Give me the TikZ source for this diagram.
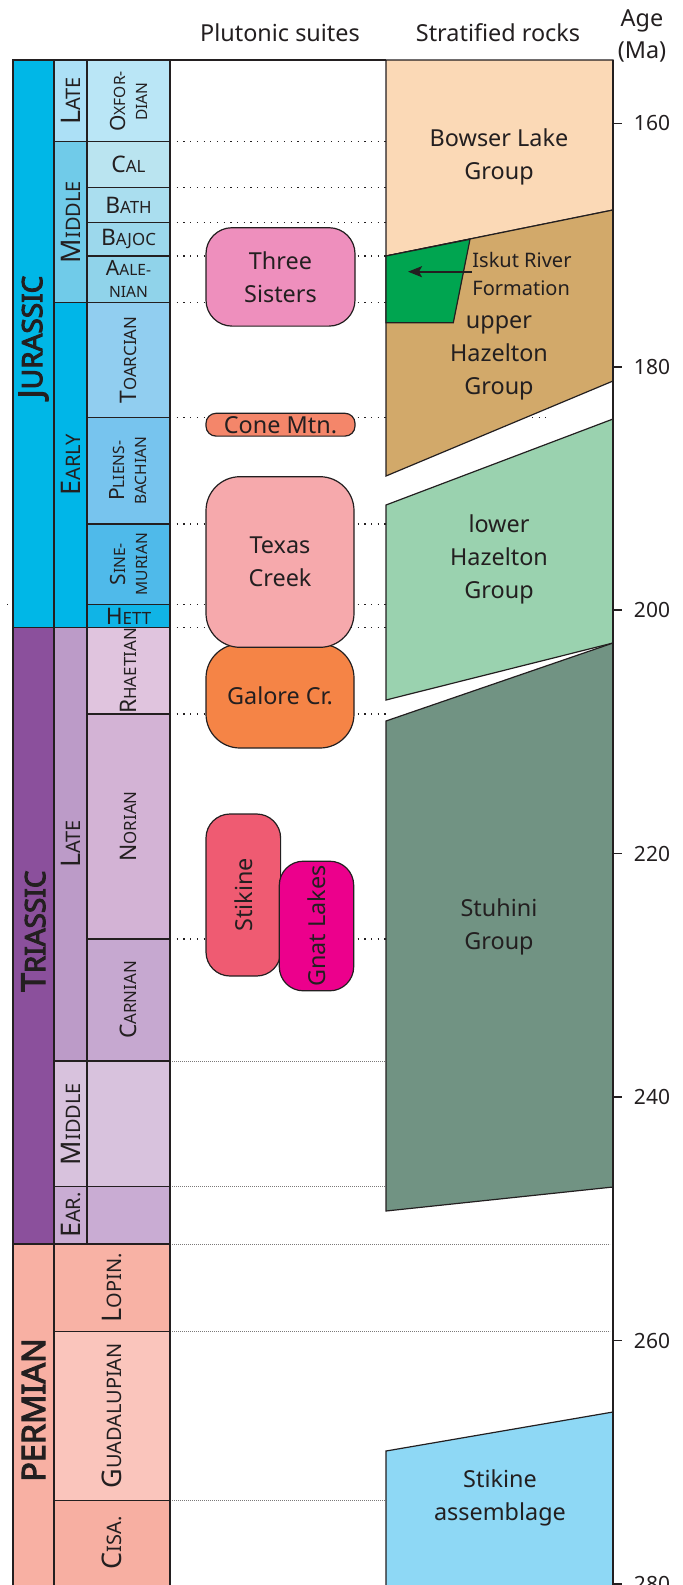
\documentclass[tikz,border=0pt]{standalone}
\usepackage{fontspec}
\setmainfont{Noto Sans}
\newfontfamily\perfont{Noto Sans}[FakeBold=3.5]
\usetikzlibrary{arrows.meta}
\definecolor{ink}{RGB}{35,31,32}
\definecolor{jurP}{RGB}{0,183,231}
\definecolor{jurL}{RGB}{172,224,246}
\definecolor{oxf}{RGB}{186,230,246}
\definecolor{jurM}{RGB}{112,203,233}
\definecolor{cal}{RGB}{186,228,240}
\definecolor{bath}{RGB}{170,222,239}
\definecolor{bajoc}{RGB}{156,216,236}
\definecolor{aalen}{RGB}{144,211,234}
\definecolor{jurE}{RGB}{0,182,232}
\definecolor{toarc}{RGB}{145,206,240}
\definecolor{pliens}{RGB}{119,196,238}
\definecolor{sine}{RGB}{79,186,234}
\definecolor{hett}{RGB}{16,180,230}
\definecolor{triP}{RGB}{139,80,156}
\definecolor{triL}{RGB}{188,155,200}
\definecolor{rhaet}{RGB}{224,196,222}
\definecolor{norian}{RGB}{211,179,213}
\definecolor{carnian}{RGB}{198,168,208}
\definecolor{triM}{RGB}{216,194,221}
\definecolor{triE}{RGB}{201,172,211}
\definecolor{perP}{RGB}{248,176,163}
\definecolor{lopin}{RGB}{248,178,165}
\definecolor{guad}{RGB}{250,197,188}
\definecolor{cisa}{RGB}{247,175,162}
\definecolor{threeS}{RGB}{238,143,189}
\definecolor{coneM}{RGB}{244,134,106}
\definecolor{texasC}{RGB}{246,169,172}
\definecolor{galoreC}{RGB}{245,132,70}
\definecolor{stikP}{RGB}{239,91,114}
\definecolor{gnatL}{RGB}{236,0,140}
\definecolor{bowser}{RGB}{251,217,182}
\definecolor{upperH}{RGB}{210,169,106}
\definecolor{iskut}{RGB}{0,165,80}
\definecolor{lowerH}{RGB}{154,210,175}
\definecolor{stuhini}{RGB}{113,147,131}
\definecolor{stikA}{RGB}{142,216,245}
\newcommand\SCa[2]{#1\scalebox{0.74}{#2}}
\newcommand\SCs[1]{\scalebox{0.74}{#1}}
\begin{document}
\begin{tikzpicture}[x=0.5pt,y=-0.5pt,
  cell/.style={draw=ink, line width=0.7pt},
  strat/.style={draw=ink, line width=0.6pt},
  pluton/.style={draw=ink, line width=0.6pt, text=ink, align=center, inner sep=0pt,
    font=\fontsize{11.7}{16.5}\selectfont},
  stxt/.style={text=ink, align=center, inner sep=0pt, font=\fontsize{11.7}{16.5}\selectfont},
  stlab/.style={text=ink, inner sep=0pt, font=\fontsize{11.4}{12}\selectfont},
  stlabtwo/.style={text=ink, inner sep=0pt, align=center, font=\fontsize{10.5}{11}\selectfont},
  eplab/.style={text=ink, inner sep=0pt, rotate=90, font=\fontsize{13.5}{15}\selectfont},
  perlab/.style={text=ink, inner sep=0pt, rotate=90, font=\perfont\fontsize{16.5}{18}\selectfont},
  dotc/.style={draw=ink, line width=0.6pt, dash pattern=on 0.6pt off 2.75pt},
  dotf/.style={draw=ink!60, line width=0.5pt, dash pattern=on 0.4pt off 0.6pt},
  axlab/.style={text=ink, inner sep=0pt, font=\fontsize{10.5}{12}\selectfont},
  hdr/.style={text=ink, inner sep=0pt, align=center, font=\fontsize{11.7}{16}\selectfont}]
\useasboundingbox (0,0) rectangle (682,1585);

% dotted correlation lines (behind everything)
\foreach \y in {141.7,187.7,222.7,256,302.3,524,604.3,627.7,714,939}
  \draw[dotc] (170,\y) -- (386,\y);
\draw[dotc] (170,417.7) -- (550,417.7);
\draw[dotc] (7,604.3) -- (13,604.3);
\foreach \y in {1061,1186.7,1244,1331.3,1500.3}
  \draw[dotf] (170,\y) -- (610,\y);

% stratified rocks
\filldraw[strat, fill=bowser] (386,60) -- (613,60) -- (613,210) -- (386,256) -- cycle;
\filldraw[strat, fill=upperH] (386,256) -- (613,210) -- (613,381) -- (386,476) -- cycle;
\filldraw[strat, fill=iskut] (386,256) -- (470,239.3) -- (453.3,322.7) -- (386,322.7) -- cycle;
\filldraw[strat, fill=lowerH] (386,505) -- (613,419) -- (613,643) -- (386,700) -- cycle;
\filldraw[strat, fill=stuhini] (386,721) -- (613,643) -- (613,1187) -- (386,1211) -- cycle;
\filldraw[strat, fill=stikA] (386,1451) -- (613,1412) -- (613,1595) -- (386,1595) -- cycle;

\node[stxt] (bowserT) at (499,157) {Bowser Lake\\Group};
\node[stxt] (upperT) at (499,358) {upper\\Hazelton\\Group};
\node[stxt] (lowerT) at (499,559) {lower\\Hazelton\\Group};
\node[stxt] (stuhiniT) at (499,927) {Stuhini\\Group};
\node[stxt] (stikAT) at (500,1498) {Stikine\\assemblage};
\node[text=ink, inner sep=0pt, align=left, anchor=west,
  font=\fontsize{10}{14}\selectfont] (iskutT) at (472,273.5) {Iskut River\\Formation};
\coordinate (iskA) at (472,271.7);
\coordinate (iskB) at (408,271.7);
\draw[ink, line width=0.9pt, -{Stealth[length=7pt,width=5.5pt,inset=1.5pt]}] (iskA) -- (iskB);

% plutonic suites
\node[pluton, fill=threeS, minimum width=74.5pt, minimum height=49.2pt, rounded corners=13pt]
  (three) at (280.5,276.9) {Three\\Sisters};
\node[pluton, fill=coneM, minimum width=74.5pt, minimum height=11.4pt, rounded corners=5pt]
  (cone) at (280.5,424.7) {Cone Mtn.};
\node[pluton, fill=galoreC, minimum width=74pt, minimum height=52pt, rounded corners=17pt]
  (galore) at (280,696) {Galore Cr.};
\node[pluton, fill=texasC, minimum width=74pt, minimum height=85.3pt, rounded corners=17pt]
  (texas) at (280,562) {Texas\\Creek};
\node[pluton, fill=stikP, rotate=90, minimum width=81pt, minimum height=37.3pt, rounded corners=12pt]
  (stikine) at (243.3,895) {Stikine};
\node[pluton, fill=gnatL, rotate=90, minimum width=64.8pt, minimum height=37.2pt, rounded corners=12pt]
  (gnat) at (316.5,926) {Gnat Lakes};

% time scale column: periods
\filldraw[cell, fill=jurP] (13,60) rectangle (54,627.7);
\filldraw[cell, fill=triP] (13,627.7) rectangle (54,1244);
\filldraw[cell, fill=perP] (13,1244) rectangle (54,1595);
% epochs
\filldraw[cell, fill=jurL] (54,60) rectangle (87,141.7);
\filldraw[cell, fill=jurM] (54,141.7) rectangle (87,302.3);
\filldraw[cell, fill=jurE] (54,302.3) rectangle (87,627.7);
\filldraw[cell, fill=triL] (54,627.7) rectangle (87,1061);
\filldraw[cell, fill=triM] (54,1061) rectangle (87,1186.7);
\filldraw[cell, fill=triE] (54,1186.7) rectangle (87,1244);
\filldraw[cell, fill=lopin] (54,1244) rectangle (170,1331.3);
\filldraw[cell, fill=guad] (54,1331.3) rectangle (170,1500.3);
\filldraw[cell, fill=cisa] (54,1500.3) rectangle (170,1595);
% stages
\filldraw[cell, fill=oxf] (87,60) rectangle (170,141.7);
\filldraw[cell, fill=cal] (87,141.7) rectangle (170,187.7);
\filldraw[cell, fill=bath] (87,187.7) rectangle (170,222.7);
\filldraw[cell, fill=bajoc] (87,222.7) rectangle (170,256);
\filldraw[cell, fill=aalen] (87,256) rectangle (170,302.3);
\filldraw[cell, fill=toarc] (87,302.3) rectangle (170,417.7);
\filldraw[cell, fill=pliens] (87,417.7) rectangle (170,524);
\filldraw[cell, fill=sine] (87,524) rectangle (170,604.3);
\filldraw[cell, fill=hett] (87,604.3) rectangle (170,627.7);
\filldraw[cell, fill=rhaet] (87,627.7) rectangle (170,714);
\filldraw[cell, fill=norian] (87,714) rectangle (170,939);
\filldraw[cell, fill=carnian] (87,939) rectangle (170,1061);
\filldraw[cell, fill=triM] (87,1061) rectangle (170,1186.7);
\filldraw[cell, fill=triE] (87,1186.7) rectangle (170,1244);

% frame
\draw[ink, line width=0.9pt] (13,1595) -- (13,60) -- (386,60);
\draw[ink, line width=0.7pt] (613,60) -- (613,1595);

% period labels
\node[perlab] (jurT) at (33.5,337) {J{\fontsize{14}{16}\selectfont URASSIC}};
\node[perlab] (triT) at (33.5,931) {T{\fontsize{14}{16}\selectfont RIASSIC}};
\node[perlab, font=\perfont\fontsize{16.2}{18}\selectfont] (perT) at (33.5,1410) {PERMIAN};

% epoch labels
\node[eplab] (lateJ) at (70.5,100.9) {\SCa{L}{ATE}};
\node[eplab] (midJ) at (70.5,222) {\SCa{M}{IDDLE}};
\node[eplab] (earlyJ) at (70.5,465) {\SCa{E}{ARLY}};
\node[eplab] (lateT) at (70.5,844) {\SCa{L}{ATE}};
\node[eplab] (midT) at (70.5,1124) {\SCa{M}{IDDLE}};
\node[eplab] (earT) at (70.5,1215) {\SCa{E}{AR.}};
\node[eplab] (lopinT) at (112,1287.7) {\SCa{L}{OPIN.}};
\node[eplab] (guadT) at (112,1415.8) {\SCa{G}{UADALUPIAN}};
\node[eplab] (cisaT) at (112,1542.7) {\SCa{C}{ISA.}};

% stage labels
\node[stlabtwo, rotate=90] (oxfT) at (128.5,101.5) {\SCa{O}{XFOR-}\\\SCs{DIAN}};
\node[stlab] (calT) at (128.5,164.7) {\SCa{C}{AL}};
\node[stlab] (bathT) at (128.5,205.2) {\SCa{B}{ATH}};
\node[stlab] (bajocT) at (128.5,239.3) {\SCa{B}{AJOC}};
\node[stlabtwo] (aalenT) at (128.5,279.2) {\SCa{A}{ALE-}\\\SCs{NIAN}};
\node[stlab, rotate=90] (toarcT) at (128.5,360) {\SCa{T}{OARCIAN}};
\node[stlabtwo, rotate=90] (pliensT) at (128.5,470.9) {\SCa{P}{LIENS-}\\\SCs{BACHIAN}};
\node[stlabtwo, rotate=90] (sineT) at (128.5,564.2) {\SCa{S}{INE-}\\\SCs{MURIAN}};
\node[stlab] (hettT) at (128.5,616) {\SCa{H}{ETT}};
\node[stlab, rotate=90] (rhaetT) at (128.5,670.9) {\SCa{R}{HAETIAN}};
\node[stlab, rotate=90] (norianT) at (128.5,826.5) {\SCa{N}{ORIAN}};
\node[stlab, rotate=90] (carnianT) at (128.5,1000) {\SCa{C}{ARNIAN}};

% headers
\node[hdr] (hplut) at (280,33) {Plutonic suites};
\node[hdr] (hstrat) at (498,33) {Stratified rocks};
\node[hdr] (hage) at (642,36) {Age\\(Ma)};

% age axis
\foreach \v/\y in {160/123.3,180/366.8,200/610,220/853.5,240/1097,260/1340.5,280/1584}{
  \draw[ink, line width=0.7pt] (613,\y) -- (622,\y);
  \node[axlab] (age\v) at (652,\y) {\v};
}
\end{tikzpicture}
\end{document}
